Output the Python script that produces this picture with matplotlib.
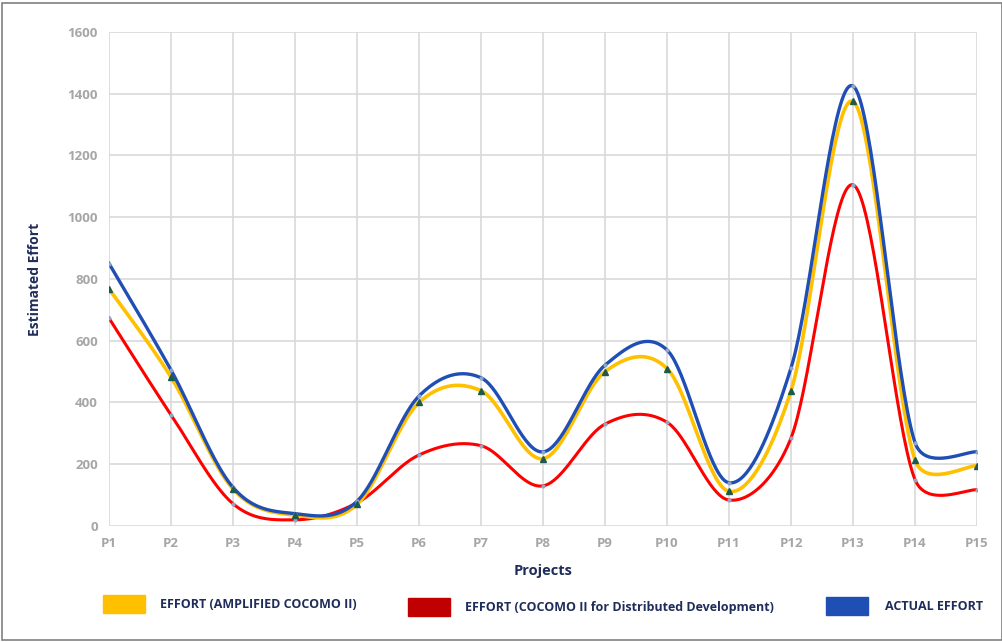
import numpy as np
import matplotlib.pyplot as plt
from matplotlib.patches import Rectangle

plt.rcParams['font.family'] = ['Open Sans', 'DejaVu Sans']

# --- DATA ---
projects = ["P%d" % i for i in range(1, 16)]
effort_amplified = [768, 482, 120, 35, 70, 400, 438, 218, 500, 510, 112, 438, 1375, 214, 195]
effort_distributed = [673, 360, 72, 20, 75, 230, 260, 130, 330, 336, 84, 285, 1105, 150, 117]
actual_effort = [850, 505, 125, 40, 80, 421, 480, 240, 521, 570, 140, 512, 1425, 270, 240]

YELLOW = '#ffc000'
RED = '#ff0000'
BLUE = '#1f4eb4'
NAVY = '#1f2d5a'
TICK = '#a6a6a6'

# y units -> x units (screen aspect), used for distances in the smoothing
Y_ASPECT = 0.3088 / 62.0


def smooth(xs, ys, n=40):
    # Excel-style smoothed line: catmull-rom bezier, control arm clamped to half the segment
    xs = np.asarray(xs, float)
    ys = np.asarray(ys, float) * Y_ASPECT
    P = np.column_stack([xs, ys])
    P = np.vstack([P[0], P, P[-1]])
    dist = lambda a, b: np.hypot(*(a - b))
    t = np.linspace(0, 1, n)
    out = []
    for i in range(1, len(P) - 2):
        p0, p1, p2, p3 = P[i - 1], P[i], P[i + 1], P[i + 2]
        d12 = dist(p1, p2)
        d02 = dist(p0, p2)
        d13 = dist(p1, p3)
        f0 = 1 / 6 if d02 / 6 < d12 / 2 else d12 / d02 / 2
        f1 = 1 / 6 if d13 / 6 < d12 / 2 else d12 / d13 / 2
        c1 = p1 + f0 * (p2 - p0)
        c2 = p2 - f1 * (p3 - p1)
        b = ((1 - t) ** 3)[:, None] * p1 + (3 * (1 - t) ** 2 * t)[:, None] * c1 \
            + (3 * (1 - t) * t ** 2)[:, None] * c2 + (t ** 3)[:, None] * p2
        out.append(b)
    out = np.vstack(out)
    return out[:, 0], out[:, 1] / Y_ASPECT


fig = plt.figure(figsize=(10.03, 6.42), dpi=100)
ax = fig.add_axes([0.1087, 0.1807, 0.8654, 0.7695])

x = np.arange(len(projects))

sx, sy = smooth(x, effort_distributed)
ax.plot(sx, sy, color=RED, lw=2.2, zorder=3)
ax.plot(x, effort_distributed, ls='none', marker='o', ms=2, color='#8fa8c8', zorder=4)

sx, sy = smooth(x, effort_amplified)
ax.plot(sx, sy, color=YELLOW, lw=2.6, zorder=3)

sx, sy = smooth(x, actual_effort)
ax.plot(sx, sy, color=BLUE, lw=2.4, zorder=3)
ax.plot(x, actual_effort, ls='none', marker='o', ms=2, color='#8fa8c8', zorder=4)

ax.plot(x, effort_amplified, ls='none', marker='^', ms=5, color='#1d5a4c', zorder=5)

ax.set_xlim(0, len(projects) - 1)
ax.set_ylim(0, 1600)
ax.set_yticks(np.arange(0, 1601, 200))
ax.set_xticks(x)
ax.set_xticklabels(projects)
ax.grid(True, color='#d9d9d9', lw=1.2)
ax.set_axisbelow(True)
for s in ax.spines.values():
    s.set_visible(False)
ax.tick_params(length=0, colors=TICK, labelsize=9.5, pad=8)
for lbl in ax.get_xticklabels() + ax.get_yticklabels():
    lbl.set_fontweight('bold')

ax.set_xlabel('Projects', fontsize=10.5, fontweight='bold', color=NAVY, labelpad=10)
ax.set_ylabel('Estimated Effort', fontsize=10, fontweight='bold', color=NAVY, labelpad=18)

# legend row at bottom
legend_items = [
    (YELLOW, 'EFFORT (AMPLIFIED COCOMO II)', 103, 595, 160),
    ('#c00000', 'EFFORT (COCOMO II for Distributed Development)', 408, 598, 465),
    (BLUE, 'ACTUAL EFFORT', 826, 597, 885),
]
W, H = 1003, 642
for col, txt, rx, ry, tx in legend_items:
    fig.patches.append(Rectangle((rx / W, 1 - (ry + 18) / H), 42 / W, 18 / H,
                                 transform=fig.transFigure, color=col))
    fig.text(tx / W, 1 - (ry + 9) / H, txt, fontsize=9, fontweight='bold',
             color=NAVY, va='center', ha='left')

# outer frame
fig.patches.append(Rectangle((2 / W, 2 / H), (W - 3) / W, (H - 5) / H,
                             transform=fig.transFigure, fill=False,
                             edgecolor='#808080', lw=1.2))

fig.savefig('out.png', dpi=100)
